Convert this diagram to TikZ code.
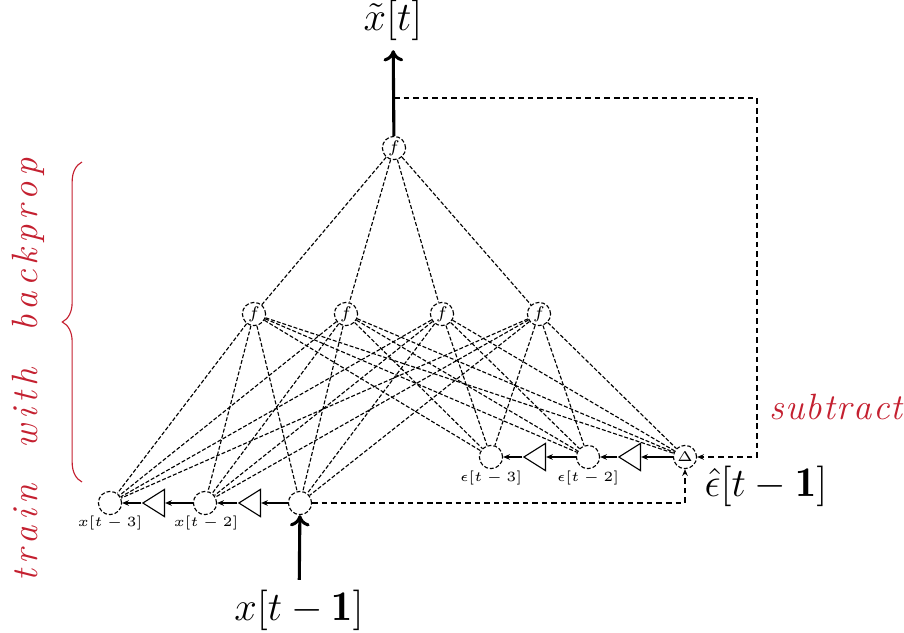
\documentclass[tikz,border=0pt]{standalone}
\usepackage{amsmath}
\usepackage{fontspec}
\usetikzlibrary{shapes.geometric,arrows.meta,decorations.pathreplacing}
\definecolor{notered}{RGB}{196,32,48}
\ExplSyntaxOn
\NewDocumentCommand\spreadword{mm}{\tl_map_inline:nn {#2}{##1\kern #1}\kern -#1}
\ExplSyntaxOff
\tikzset{
  unit/.style={circle,draw,dash pattern=on 1.4pt off .7pt,minimum size=.29cm,inner sep=0pt,font=\fontsize{6}{6}\selectfont},
  delay/.style={isosceles triangle,shape border rotate=180,isosceles triangle stretches,draw,
    minimum width=.34cm,minimum height=.27cm,inner sep=0pt},
  tag/.style={font=\fontsize{5.5}{6}\selectfont},
  big/.style={font=\fontsize{15}{15}\selectfont},
  remark/.style={notered,font=\fontsize{13}{13}\selectfont\itshape},
  tiptail/.style={-{Stealth[length=2.4pt,width=2pt]}},
  feed/.style={line width=1.1pt,-{To[length=4pt,width=7pt]}},
  fb/.style={dash pattern=on 2pt off 1.4pt}
}
\begin{document}
\begin{tikzpicture}[x=.0125cm,y=-.0125cm,line width=.4pt]
\useasboundingbox (0,0) rectangle (904,633);
% output and hidden units
\node[unit] (out) at (394,148) {$f$};
\foreach \i/\x in {1/254,2/346,3/442,4/539}
  \node[unit] (h\i) at (\x,314) {$f$};
% delay line of the inputs
\node[unit] (x3) at (110,503) {};\node[delay] (dx2) at (157,503) {};
\node[unit] (x2) at (205,503) {};\node[delay] (dx1) at (253,503) {};
\node[unit] (x1) at (300,503) {};
% delay line of the errors
\node[unit] (e3) at (491,457) {};\node[delay] (de2) at (538,457) {};
\node[unit] (e2) at (588,457) {};\node[delay] (de1) at (633,457) {};
\node[unit] (e1) at (685,457) {$\scriptscriptstyle\Delta$};
\node[tag] (lx3) at (110,523) {$x[t-3]$};\node[tag] (lx2) at (206,523) {$x[t-2]$};
\node[tag] (le3) at (491,478) {$\epsilon[t-3]$};\node[tag] (le2) at (588,478) {$\epsilon[t-2]$};
\node[big] (xt) at (393,20) {$\tilde{x}[t]$};
\node[big] (xin) at (299,610) {$x[t-\mathbf{1}]$};
\node[big] (ehat) at (766,486) {$\hat{\epsilon}[t-\mathbf{1}]$};
\node[remark] (sub) at (836,407) {\spreadword{.5pt}{subtract}};
\node[remark,rotate=90] (train) at (28,370) {\spreadword{1.8pt}{train}\hspace{13pt}\spreadword{1.8pt}{with}\hspace{13pt}\spreadword{1.8pt}{backprop}};
\draw[notered,decorate,decoration={brace,amplitude=7pt}] (82,482) -- (82,162);
% weights
\foreach \i in {1,...,4}{
  \draw[dash pattern=on 1.4pt off .7pt] (out) -- (h\i);
  \foreach \j in {x3,x2,x1,e3,e2,e1}
    \draw[dash pattern=on 1.4pt off .7pt] (h\i) -- (\j);
}
\draw[tiptail] (dx2) -- (x3);\draw[tiptail] (x2) -- (dx2);
\draw[tiptail] (dx1) -- (x2);\draw[tiptail] (x1) -- (dx1);
\draw[tiptail] (de2) -- (e3);\draw[tiptail] (e2) -- (de2);
\draw[tiptail] (de1) -- (e2);\draw[tiptail] (e1) -- (de1);
% prediction and error
\draw[feed] (out) -- (xt);
\draw[feed] (xin) -- (x1);
\coordinate (corner) at (757,98);
\draw[fb,tiptail] (out |- corner) -- (corner) |- (e1);
\draw[fb,tiptail] (x1) -| (e1);
\end{tikzpicture}
\end{document}
